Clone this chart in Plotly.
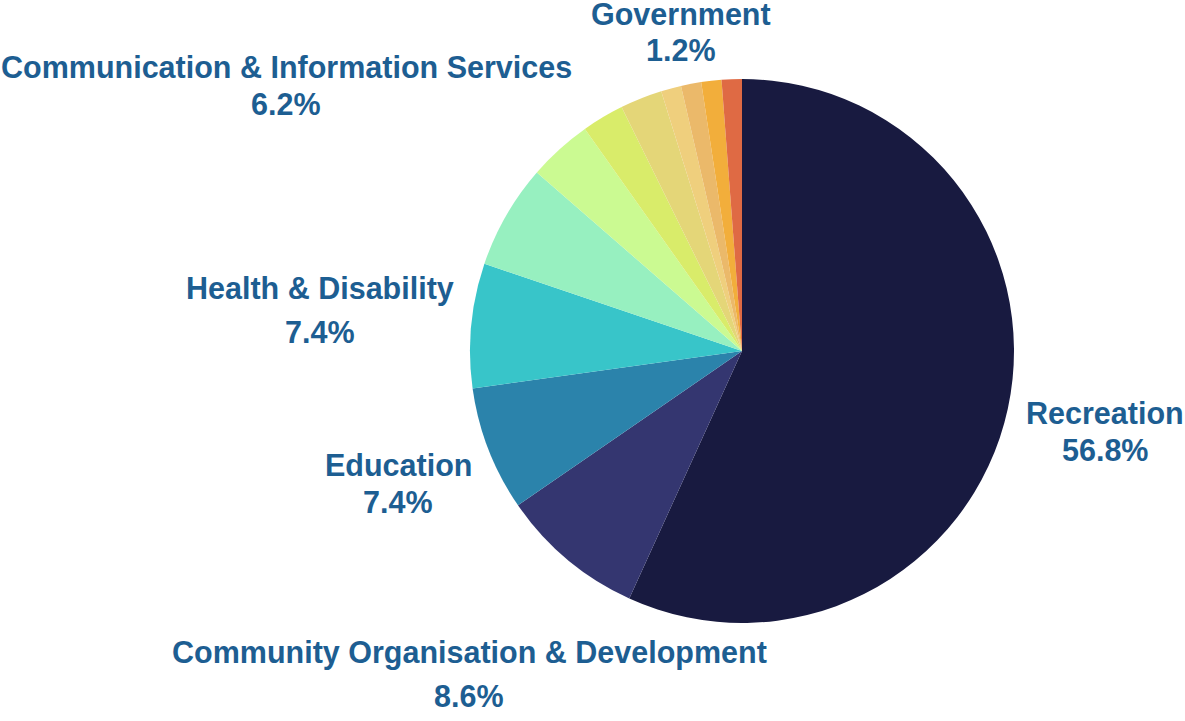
import plotly.graph_objects as go

categories = [
    "Recreation",
    "Community Organisation & Development",
    "Education",
    "Health & Disability",
    "Communication & Information Services",
    "Arts & Culture",
    "Environment",
    "Social Services",
    "Religious Activities",
    "Emergency & Safety",
    "Research",
    "Government",
]
values = [56.8, 8.6, 7.4, 7.4, 6.2, 3.8, 2.5, 2.5, 1.2, 1.2, 1.2, 1.2]
colors = [
    "#181a40", "#343670", "#2b83ab", "#38c5c9", "#97f0c0", "#cbfa92",
    "#d9ec6a", "#e4d678", "#efcf7d", "#ebb96a", "#f2ae3b", "#df6a44",
]

W, H = 1185, 721

fig = go.Figure(
    go.Pie(
        labels=categories,
        values=values,
        sort=False,
        direction="clockwise",
        rotation=0,
        marker=dict(colors=colors, line=dict(width=0)),
        textinfo="none",
        showlegend=False,
        domain=dict(x=[470 / W, 1014 / W], y=[1 - 623 / H, 1 - 79 / H]),
    )
)

# label layout (pixel centre x, name line y, percent line y) for labelled slices
label_layout = {
    "Recreation": (1105, 413, 450),
    "Community Organisation & Development": (469, 652, 696),
    "Education": (398, 465, 502),
    "Health & Disability": (320, 288, 332),
    "Communication & Information Services": (286, 67, 104),
    "Government": (681, 14, 50),
}

total = sum(values)
font = dict(family="Liberation Sans, Arial, sans-serif", size=30.5, color="#1d5e92", weight="bold")
annotations = []
for name, val in zip(categories, values):
    if name not in label_layout:
        continue
    cx, y1, y2 = label_layout[name]
    pct = f"{val / total * 100:.1f}%"
    for txt, yy in ((name, y1), (pct, y2)):
        annotations.append(
            dict(
                text=txt, x=cx / W, y=1 - yy / H, xref="paper", yref="paper",
                xanchor="center", yanchor="middle", showarrow=False, font=font,
            )
        )

fig.update_layout(
    width=W,
    height=H,
    margin=dict(l=0, r=0, t=0, b=0),
    paper_bgcolor="white",
    plot_bgcolor="white",
    annotations=annotations,
)
fig.write_html(
    "out.html",
    config={"displayModeBar": False},
    post_script="document.body.style.margin='0';",
)
